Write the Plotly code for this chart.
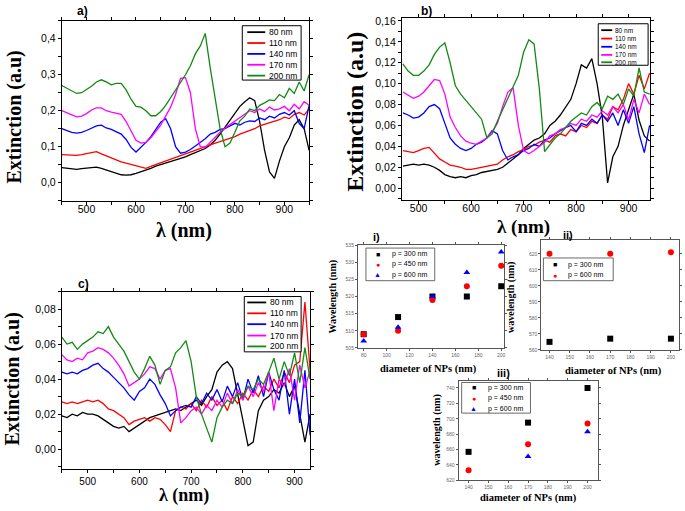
import plotly.graph_objects as go

W, H = 685, 511

# ---- data: extinction spectra ----
sizes = ["80 nm", "110 nm", "140 nm", "170 nm", "200 nm"]
line_colors = ["black", "#ff0000", "#0000ff", "#ff00ff", "#138a13"]

wl_a = list(range(450, 951, 10))
a_80 = [.042, .040, .038, .037, .039, .040, .043, .043, .040, .035, .030, .026, .022, .021, .022, .026, .030,
        .035, .040, .046, .050, .054, .058, .062, .068, .072, .078, .084, .090, .095, .105, .118, .135, .155,
        .175, .195, .212, .225, .236, .228, .170, .090, .030, .012, .060, .100, .125, .160, .175, .150, .090]
a_110 = [.078, .077, .075, .076, .078, .080, .083, .086, .080, .074, .068, .064, .058, .054, .050, .046, .042,
         .040, .045, .050, .055, .060, .066, .070, .076, .080, .086, .092, .096, .102, .106, .110, .114, .118,
         .124, .128, .135, .140, .146, .150, .158, .162, .168, .172, .175, .182, .178, .190, .195, .188, .205]
a_140 = [.150, .145, .140, .138, .140, .145, .152, .158, .160, .152, .148, .142, .135, .120, .098, .085, .098,
         .112, .128, .148, .168, .178, .150, .100, .082, .085, .092, .102, .112, .122, .135, .140, .148, .150,
         .158, .165, .160, .168, .172, .170, .180, .175, .185, .180, .190, .195, .188, .200, .165, .150, .215]
a_170 = [.200, .195, .188, .183, .185, .192, .202, .208, .208, .200, .196, .194, .190, .170, .145, .118, .110,
         .112, .125, .142, .160, .185, .210, .245, .290, .292, .250, .150, .100, .098, .112, .128, .140, .152,
         .162, .170, .180, .192, .200, .195, .205, .198, .210, .202, .205, .212, .200, .218, .205, .225, .215]
a_200 = [.270, .262, .255, .248, .250, .258, .268, .280, .286, .280, .272, .276, .276, .258, .232, .212, .210,
         .200, .186, .186, .198, .215, .236, .258, .280, .300, .325, .358, .380, .415, .320, .237, .150, .100,
         .110, .140, .172, .185, .205, .200, .215, .222, .230, .228, .245, .236, .262, .248, .280, .255, .300]

wl_b = list(range(470, 941, 10))
b_80 = [.021, .022, .023, .022, .023, .022, .020, .017, .013, .011, .010, .011, .010, .012, .013, .015, .016,
        .017, .018, .020, .024, .028, .032, .038, .042, .046, .048, .052, .060, .064, .070, .078, .085, .100,
        .118, .115, .124, .100, .068, .005, .030, .040, .060, .075, .090, .065, .050, .045]
b_110 = [.036, .035, .034, .036, .038, .039, .034, .028, .025, .022, .021, .020, .018, .018, .019, .020, .021,
         .022, .023, .027, .030, .032, .035, .037, .040, .041, .044, .046, .044, .050, .052, .050, .056, .054,
         .060, .058, .064, .062, .070, .066, .078, .075, .085, .100, .090, .108, .095, .110]
b_140 = [.072, .070, .067, .068, .072, .078, .080, .076, .062, .048, .042, .038, .036, .038, .042, .044, .048,
         .055, .052, .036, .027, .030, .032, .036, .038, .042, .040, .046, .048, .052, .055, .058, .060, .054,
         .062, .060, .066, .062, .070, .064, .072, .060, .075, .062, .078, .052, .034, .060]
b_170 = [.092, .089, .086, .088, .092, .098, .104, .103, .090, .068, .058, .050, .045, .043, .042, .045, .048,
         .054, .062, .078, .092, .096, .060, .036, .033, .036, .040, .044, .050, .052, .056, .058, .062, .060,
         .066, .064, .070, .068, .074, .070, .078, .072, .080, .065, .085, .072, .090, .080]
b_200 = [.119, .112, .108, .108, .112, .118, .128, .135, .139, .120, .098, .090, .084, .078, .072, .066, .048,
         .052, .064, .075, .085, .096, .108, .130, .142, .138, .095, .035, .042, .048, .052, .058, .064, .068,
         .072, .070, .078, .082, .076, .088, .085, .090, .080, .095, .088, .115, .092, .090]

wl_c = list(range(450, 931, 10))
c_80 = [.019, .018, .020, .019, .021, .020, .020, .019, .017, .015, .013, .012, .013, .010, .012, .014, .016,
        .018, .019, .020, .021, .022, .023, .022, .024, .026, .028, .025, .030, .034, .044, .048, .050, .046,
        .032, .018, .002, .004, .022, .028, .030, .034, .032, .038, .030, .036, .020, .004, .020]
c_110 = [.027, .026, .027, .026, .027, .028, .027, .028, .026, .023, .022, .020, .018, .014, .016, .017, .018,
         .016, .018, .017, .014, .010, .022, .024, .023, .026, .022, .028, .024, .030, .025, .028, .022, .030,
         .026, .032, .028, .034, .030, .036, .033, .040, .035, .044, .038, .048, .050, .084, .045]
c_140 = [.044, .043, .044, .043, .045, .046, .048, .049, .046, .044, .041, .038, .035, .031, .028, .033, .035,
         .040, .037, .031, .026, .019, .022, .024, .025, .024, .030, .026, .032, .028, .034, .027, .036, .030,
         .038, .028, .040, .032, .042, .030, .044, .034, .028, .045, .020, .040, .015, .045, .008]
c_170 = [.054, .051, .050, .052, .051, .055, .056, .058, .057, .055, .052, .048, .043, .036, .038, .040, .043,
         .047, .046, .040, .045, .046, .035, .015, .018, .022, .024, .020, .025, .022, .028, .024, .032, .026,
         .034, .028, .036, .030, .038, .033, .044, .022, .040, .036, .046, .028, .048, .035, .045]
c_200 = [.064, .060, .061, .057, .060, .062, .064, .067, .066, .070, .064, .060, .056, .050, .044, .040, .046,
         .053, .048, .037, .045, .047, .055, .058, .062, .050, .030, .020, .012, .004, .018, .024, .028, .026,
         .032, .030, .036, .034, .040, .037, .044, .052, .040, .050, .042, .055, .038, .058, .040]

# ---- data: resonance positions vs diameter ----
d_i = [80, 110, 140, 170, 200]
i_300 = [509, 514, 520, 520, 523]
i_450 = [509, 510, 519, 523, 529]
i_600 = [507, 511, 520, 527, 533]

d_ii = [140, 170, 200]
ii_300 = [565, 567, 567]
ii_600 = [620, 620, 621]

d_iii = [140, 170, 200]
iii_300 = [657, 695, 740]
iii_450 = [633, 667, 694]
iii_600 = [None, 651, 683]

periods = ["p = 300 nm", "p = 450 nm", "p = 600 nm"]
mk_colors = ["black", "#ff0000", "#0000ff"]
mk_symbols = ["square", "circle", "triangle-up"]


def px(x):
    return x / W


def py(y):
    return 1 - y / H


fig = go.Figure()

panels = [
    ("x", "y", wl_a, [a_80, a_110, a_140, a_170, a_200]),
    ("x2", "y2", wl_b, [b_80, b_110, b_140, b_170, b_200]),
    ("x3", "y3", wl_c, [c_80, c_110, c_140, c_170, c_200]),
]
for xa, ya, wl, series in panels:
    for name, col, vals in zip(sizes, line_colors, series):
        fig.add_trace(go.Scatter(x=wl, y=vals, mode="lines", name=name, xaxis=xa, yaxis=ya,
                                 line=dict(color=col, width=1.3), showlegend=False))

small = [
    ("x4", "y4", d_i, [i_300, i_450, i_600], [0, 1, 2]),
    ("x5", "y5", d_ii, [ii_300, ii_600], [0, 1]),
    ("x6", "y6", d_iii, [iii_300, iii_450, iii_600], [0, 1, 2]),
]
for xa, ya, d, series, idx in small:
    for k, vals in zip(idx, series):
        name = periods[2] if (xa == "x5" and k == 1) else periods[k]
        fig.add_trace(go.Scatter(x=d, y=vals, mode="markers", name=name, xaxis=xa, yaxis=ya,
                                 marker=dict(color=mk_colors[k], symbol=mk_symbols[k], size=6),
                                 cliponaxis=False, showlegend=False))

main_font = dict(family="Liberation Sans, Arial", size=10.5, color="black")


def main_axis(**kw):
    d = dict(showline=True, linecolor="black", linewidth=1, mirror="ticks", ticks="outside",
             ticklen=3, tickcolor="black", showgrid=False, zeroline=False, tickfont=main_font)
    d.update(kw)
    return d


small_font = dict(family="Liberation Sans, Arial", size=5, color="#666")


def small_axis(**kw):
    d = dict(showline=True, linecolor="#555", linewidth=1, mirror="ticks", ticks="outside",
             ticklen=2, tickcolor="#555", showgrid=False, zeroline=False, tickfont=small_font)
    d.update(kw)
    return d


fig.update_layout(
    width=W, height=H, margin=dict(l=0, r=0, t=0, b=0),
    paper_bgcolor="white", plot_bgcolor="white", separators=",.",
    xaxis=main_axis(domain=[px(62), px(310)], range=[450, 950], dtick=100, anchor="y",
                    ticklabelstandoff=-4, minor=dict(ticks="outside", ticklen=3, dtick=50)),
    yaxis=main_axis(domain=[py(200), py(18)], range=[-0.05, 0.45], dtick=0.1, tickformat=".1f",
                    anchor="x", minor=dict(ticks="outside", ticklen=3, dtick=0.05)),
    xaxis2=main_axis(domain=[px(403), px(652)], range=[468, 941], dtick=100, anchor="y2",
                     ticklabelstandoff=-4, minor=dict(ticks="outside", ticklen=3, dtick=50)),
    yaxis2=main_axis(domain=[py(199), py(15)], range=[-0.011, 0.163], dtick=0.02, tickformat=".2f",
                     anchor="x2", minor=dict(ticks="outside", ticklen=3, dtick=0.01)),
    xaxis3=main_axis(domain=[px(62), px(311)], range=[450, 930], dtick=100, anchor="y3",
                     tickfont=dict(family="Liberation Sans, Arial", size=10, color="black"),
                     minor=dict(ticks="outside", ticklen=3, dtick=50)),
    yaxis3=main_axis(domain=[py(472), py(292)], range=[-0.0116, 0.090], dtick=0.02, tickformat=".2f",
                     anchor="x3", minor=dict(ticks="outside", ticklen=3, dtick=0.01)),
    xaxis4=small_axis(domain=[px(359), px(505)], range=[75, 202], dtick=20, anchor="y4"),
    yaxis4=small_axis(domain=[py(349), py(245)], range=[505, 535], dtick=5, anchor="x4"),
    xaxis5=small_axis(domain=[px(543), px(681)], range=[136, 204], dtick=10, anchor="y5"),
    yaxis5=small_axis(domain=[py(351), py(240)], range=[560, 628.5], dtick=10, anchor="x5"),
    xaxis6=small_axis(domain=[px(460), px(600)], range=[135, 205.4], dtick=10, anchor="y6"),
    yaxis6=small_axis(domain=[py(483), py(382)], range=[620, 749.7], dtick=20, anchor="x6"),
)

serif_b = "Liberation Serif, Times New Roman"
sans_b = "Liberation Sans, Arial"
ann = []
shapes = []


def text(x, y, s, size, family=sans_b, angle=0, color="black", xanchor="center", bold=True,
         yanchor="middle"):
    ann.append(dict(x=px(x), y=py(y), xref="paper", yref="paper", text=f"<b>{s}</b>" if bold else s,
                    showarrow=False, textangle=angle, xanchor=xanchor, yanchor=yanchor,
                    font=dict(family=family, size=size, color=color)))


# panel labels
text(83, 8, "a)", 12)
text(428, 8, "b)", 12)
text(84, 284, "c)", 12)
text(378, 237, "i)", 11)
text(570, 235, "ii)", 11)
text(505, 374, "iii)", 11)

# axis titles of the spectra
text(185, 230, "λ (nm)", 20, serif_b)
text(15, 115, "Extinction (a.u)", 20, serif_b, -90)
text(356, 110, "Extinction (a.u)", 24, serif_b, -90)
text(525, 227, "λ (nm)", 19, serif_b)
text(13, 380, "Extinction (a.u)", 20, serif_b, -90)
text(185, 511, "λ (nm)", 18, serif_b, yanchor="bottom")

# axis titles of the small panels
text(333, 297, "Wavelength (nm)", 10, serif_b, -90)
text(430, 370, "diameter of NPs (nm)", 10.5, serif_b)
text(512, 298, "wavelength (nm)", 10, serif_b, -90)
text(615, 372, "diameter of NPs (nm)", 10.5, serif_b)
text(438, 432, "wavelength (nm)", 10, serif_b, -90)
text(530, 501, "diameter of NPs (nm)", 10.5, serif_b)


def line_legend(box, rows, x0, x1, tx, size):
    shapes.append(dict(type="rect", xref="paper", yref="paper", x0=px(box[0]), x1=px(box[1]),
                       y0=py(box[3]), y1=py(box[2]), line=dict(color="black", width=1),
                       fillcolor="white", layer="above"))
    for y, name, col in zip(rows, sizes, line_colors):
        shapes.append(dict(type="line", xref="paper", yref="paper", x0=px(x0), x1=px(x1),
                           y0=py(y), y1=py(y), line=dict(color=col, width=1.8), layer="above"))
        text(tx, y, name, size, sans_b, xanchor="left", bold=False)


line_legend((243, 302, 23, 78), [29.5, 40.5, 51.5, 62.5, 73.5], 248, 266, 268, 8.5)
line_legend((600, 650, 21, 63), [27.5, 36, 44.3, 52.5, 60], 603, 614, 615, 6.5)
line_legend((245, 302, 297, 353), [303, 314, 325, 336.5, 347.5], 248, 267, 269, 8.5)

glyph = {"square": "■", "circle": "●", "triangle-up": "▲"}


def marker_legend(box, rows, keys, labels, mx, tx):
    shapes.append(dict(type="rect", xref="paper", yref="paper", x0=px(box[0]), x1=px(box[1]),
                       y0=py(box[3]), y1=py(box[2]), line=dict(color="#444", width=0.8),
                       fillcolor="white", layer="above"))
    for y, k, lab in zip(rows, keys, labels):
        text(mx, y, glyph[mk_symbols[k]], 7, sans_b, color=mk_colors[k], bold=False)
        text(tx, y, lab, 7, sans_b, xanchor="left", bold=False)


marker_legend((367, 436, 248, 281), [254, 264.5, 275], [0, 1, 2], periods, 379, 391)
marker_legend((545, 615, 258, 281), [265, 275.5], [0, 1], [periods[0], periods[2]], 557, 568)
marker_legend((463, 532, 384, 415), [389.5, 400, 410.5], [0, 1, 2], periods, 475, 487)

fig.update_layout(annotations=ann, shapes=shapes)

# page body has an 8px default margin; drop it so the figure sits at the window's corner
fig.write_html("out.html", config={"displayModeBar": False},
               post_script="document.body.style.margin='0px';")
